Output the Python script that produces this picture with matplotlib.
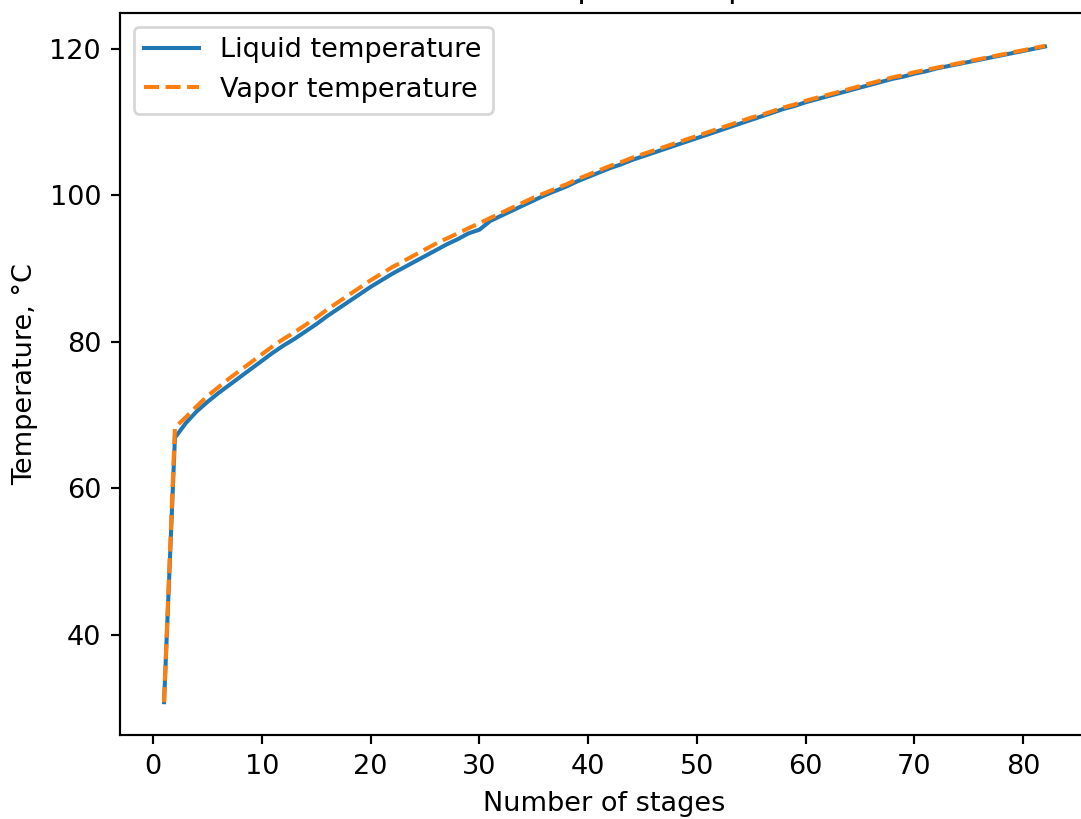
import matplotlib
matplotlib.use("Agg")
import matplotlib.pyplot as plt

stages = list(range(1, 83))

liquid_temp = [
    30.8, 66.9, 68.9, 70.5, 71.8, 73.0, 74.1, 75.2, 76.3, 77.4,
    78.5, 79.5, 80.4, 81.4, 82.4, 83.5, 84.5, 85.5, 86.5, 87.5,
    88.4, 89.3, 90.1, 90.9, 91.7, 92.5, 93.3, 94.0, 94.8, 95.3,
    96.5, 97.2, 97.9, 98.6, 99.3, 100.0, 100.6, 101.2, 101.9, 102.5,
    103.1, 103.7, 104.2, 104.8, 105.3, 105.8, 106.3, 106.8, 107.3, 107.8,
    108.3, 108.8, 109.3, 109.8, 110.3, 110.8, 111.3, 111.8, 112.2, 112.7,
    113.1, 113.5, 113.9, 114.3, 114.7, 115.1, 115.5, 115.9, 116.2, 116.6,
    116.9, 117.3, 117.6, 117.9, 118.2, 118.5, 118.8, 119.1, 119.4, 119.7,
    120.0, 120.3,
]

vapor_temp = [
    30.8, 68.3, 69.7, 71.2, 72.6, 73.8, 75.0, 76.1, 77.2, 78.3,
    79.4, 80.4, 81.3, 82.3, 83.3, 84.4, 85.4, 86.4, 87.4, 88.4,
    89.3, 90.2, 91.0, 91.8, 92.6, 93.4, 94.1, 94.8, 95.5, 96.2,
    96.9, 97.6, 98.3, 99.0, 99.7, 100.3, 100.9, 101.5, 102.2, 102.8,
    103.4, 104.0, 104.5, 105.1, 105.6, 106.1, 106.6, 107.1, 107.6, 108.1,
    108.6, 109.1, 109.6, 110.1, 110.6, 111.0, 111.5, 112.0, 112.4, 112.9,
    113.3, 113.7, 114.1, 114.5, 114.9, 115.3, 115.7, 116.1, 116.4, 116.8,
    117.1, 117.4, 117.7, 118.0, 118.3, 118.6, 118.9, 119.2, 119.5, 119.8,
    120.1, 120.4,
]

fig = plt.figure(figsize=(1081 / 195, 819 / 195), dpi=195)
ax = fig.add_axes([120 / 1081, 84 / 819, 969 / 1081, 722 / 819])

ax.plot(stages, liquid_temp, label="Liquid temperature")
ax.plot(stages, vapor_temp, linestyle="--", label="Vapor temperature")
ax.set_title("Column temperature profile")
ax.set_xlabel("Number of stages")
ax.set_ylabel("Temperature, °C")
ax.set_xticks([0, 10, 20, 30, 40, 50, 60, 70, 80])
ax.legend()

fig.savefig("out.png", dpi=195)
